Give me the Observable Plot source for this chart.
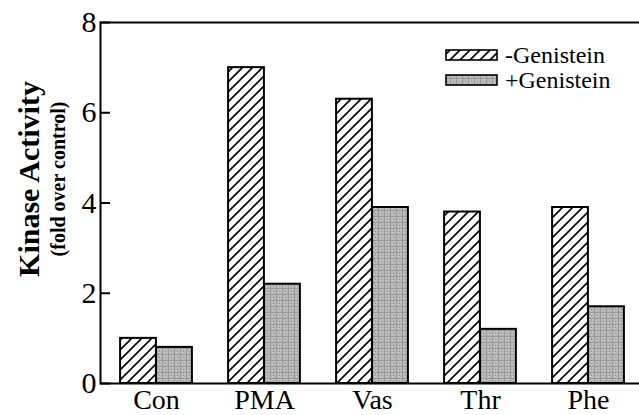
<!DOCTYPE html>
<html>
<head>
<meta charset="utf-8">
<script src="https://cdn.jsdelivr.net/npm/d3@7"></script>
<script src="https://cdn.jsdelivr.net/npm/@observablehq/plot@0.6"></script>
<style>
  html, body { margin: 0; padding: 0; background: #fff; }
  #chart { width: 639px; height: 415px; }
</style>
</head>
<body>
<div id="chart"></div>
<script>
// ---- data ----
const categories = ["Con", "PMA", "Vas", "Thr", "Phe"];
const minusGenistein = [1.0, 7.0, 6.3, 3.8, 3.9];
const plusGenistein = [0.8, 2.2, 3.9, 1.2, 1.7];
const seriesLabels = ["-Genistein", "+Genistein"];
const yTicks = [0, 2, 4, 6, 8];

const table = categories.map((c, i) => ({cat: c, minus: minusGenistein[i], plus: plusGenistein[i]}));

const W = 639, H = 415;
const mL = 100, mR = 0, mT = 22, mB = 32;
const xRange = [101, 642];
const bandW = (xRange[1] - xRange[0]) / categories.length;
const barW = 36;
const half = bandW / 2;
const font = "'Liberation Serif', 'Times New Roman', serif";

const chart = Plot.plot({
  width: W,
  height: H,
  marginLeft: mL,
  marginRight: mR,
  marginTop: mT,
  marginBottom: mB,
  style: {fontFamily: font, background: "#fff", color: "#000"},
  x: {domain: categories, range: xRange, padding: 0, axis: null},
  y: {domain: [0, 8], axis: null},
  marks: [
    Plot.barY(table, {x: "cat", y: "minus", fill: "url(#hatch)", stroke: "#000", strokeWidth: 2,
      insetLeft: half - barW, insetRight: half}),
    Plot.barY(table, {x: "cat", y: "plus", fill: "url(#stipple)", stroke: "#000", strokeWidth: 2,
      insetLeft: half, insetRight: half - barW}),
    Plot.frame({stroke: "#000", strokeWidth: 2, insetRight: -4}),
    Plot.ruleY(yTicks, {y: d => d, stroke: "#000", strokeWidth: 2, insetRight: W - mL - mR - 10}),
    Plot.axisY(yTicks, {tickSize: 0, tickPadding: 4, fontSize: 30, fill: "#000", label: null}),
    Plot.axisX({tickSize: 0, tickPadding: 6, fontSize: 28, fill: "#000", label: null}),
    Plot.text(["Kinase Activity"], {frameAnchor: "left", textAnchor: "middle", rotate: -90, dx: -71, dy: -24,
      fontWeight: "bold", fontSize: 30, fill: "#000"}),
    Plot.text(["(fold over control)"], {frameAnchor: "left", textAnchor: "middle", rotate: -90, dx: -42, dy: -24,
      fontWeight: "bold", fontSize: 20, fill: "#000"})
  ]
});

// pattern definitions
const svg = d3.select(chart);
const defs = svg.insert("defs", ":first-child");
const hatch = defs.append("pattern").attr("id", "hatch").attr("patternUnits", "userSpaceOnUse")
  .attr("width", 10).attr("height", 10);
hatch.append("rect").attr("width", 10).attr("height", 10).attr("fill", "#fff");
hatch.append("path").attr("d", "M-2,12 L12,-2 M-7,7 L7,-7 M3,17 L17,3")
  .attr("stroke", "#000").attr("stroke-width", 1.6);

const st = defs.append("pattern").attr("id", "stipple").attr("patternUnits", "userSpaceOnUse")
  .attr("width", 6).attr("height", 6);
st.append("rect").attr("width", 6).attr("height", 6).attr("fill", "#b8b8b8");
st.append("rect").attr("x", 0).attr("y", 0).attr("width", 6).attr("height", 1).attr("fill", "#9a9a9a");
st.append("rect").attr("x", 0).attr("y", 0).attr("width", 1).attr("height", 6).attr("fill", "#9a9a9a");
st.append("rect").attr("x", 3).attr("y", 3).attr("width", 1).attr("height", 1).attr("fill", "#8e8e8e");
st.append("rect").attr("x", 2).attr("y", 4).attr("width", 1).attr("height", 1).attr("fill", "#d4d4d4");
st.append("rect").attr("x", 4).attr("y", 1).attr("width", 1).attr("height", 1).attr("fill", "#d0d0d0");

// legend
const legend = svg.append("g").attr("class", "legend").attr("text-anchor", "start");
const fills = ["url(#hatch)", "url(#stipple)"];
seriesLabels.forEach((lab, i) => {
  const y0 = 50 + i * 25;
  legend.append("rect").attr("x", 446).attr("y", y0).attr("width", 51).attr("height", 10)
    .attr("fill", fills[i]).attr("stroke", "#000").attr("stroke-width", 1.6);
  legend.append("text").attr("x", 505).attr("y", y0 + 13)
    .attr("text-anchor", "start")
    .attr("font-family", font).attr("font-size", 24).attr("fill", "#000").text(lab);
});

document.getElementById("chart").appendChild(chart);
</script>
</body>
</html>
